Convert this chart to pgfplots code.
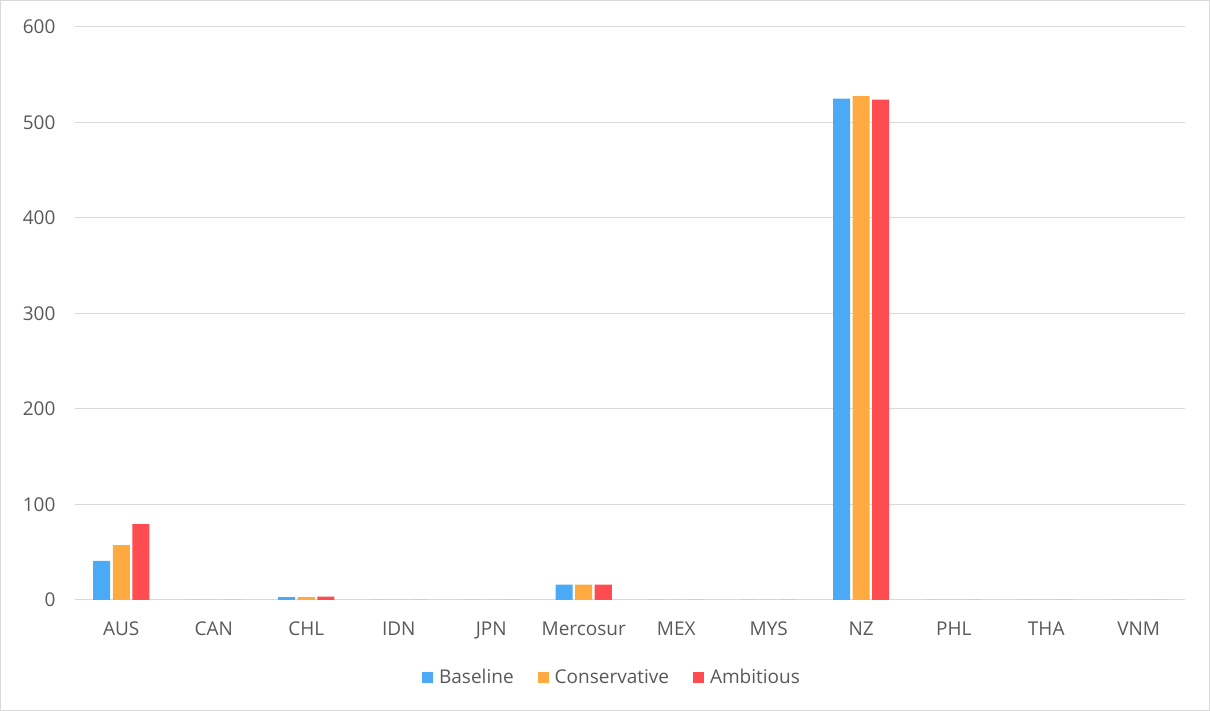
\documentclass[border=0pt]{standalone}
\usepackage{pgfplots}
\pgfplotsset{compat=1.18}
\usepackage{fontspec}
\setmainfont{Open Sans}
\definecolor{cblue}{RGB}{74,170,245}
\definecolor{corange}{RGB}{255,170,64}
\definecolor{cred}{RGB}{255,76,80}
\definecolor{ctext}{RGB}{89,89,89}
\definecolor{cgrid}{RGB}{217,217,217}
\begin{document}
\begin{tikzpicture}[x=1pt,y=1pt]
\draw[cgrid, line width=1pt] (0.5,0.5) rectangle (1209.5,710.5);
\begin{axis}[
  at={(75pt,111pt)}, anchor=south west,
  scale only axis, width=1110pt, height=573pt,
  ybar=2.5pt, bar width=17pt,
  xmin=-0.5, xmax=11.5, ymin=0, ymax=600,
  xtick=data,
  xticklabels={AUS,CAN,CHL,IDN,JPN,Mercosur,MEX,MYS,NZ,PHL,THA,VNM},
  ytick={0,100,...,600},
  major tick length=0pt,
  ymajorgrids, grid style={cgrid, line width=1pt},
  axis x line*=bottom, axis y line*=left,
  y axis line style={draw=none},
  x axis line style={cgrid, line width=1pt},
  tick label style={font=\fontsize{19}{22}\selectfont, text=ctext},
  /pgf/number format/assume math mode=true,
  xticklabel style={yshift=-18pt},
  yticklabel style={xshift=-16pt},
  legend style={at={(0.4838,-0.1352)}, anchor=center, draw=none, legend columns=3,
     font=\fontsize{19}{22}\selectfont, text=ctext,
     /tikz/every odd column/.append style={column sep=4pt},
     /tikz/every even column/.append style={column sep=22pt}},
  legend image code/.code={\fill[#1] (0pt,-5.5pt) rectangle (11pt,5.5pt);},
]
\addplot[fill=cblue, draw=none] coordinates {(0,41) (1,0) (2,3) (3,0) (4,0) (5,16) (6,0) (7,0) (8,525) (9,0) (10,0) (11,0)};
\addplot[fill=corange, draw=none] coordinates {(0,57.5) (1,0) (2,3) (3,0) (4,0) (5,16) (6,0) (7,0) (8,527.5) (9,0) (10,0) (11,0)};
\addplot[fill=cred, draw=none] coordinates {(0,79.5) (1,0) (2,3.5) (3,0) (4,0) (5,16) (6,0) (7,0) (8,524) (9,0) (10,0) (11,0)};
\legend{Baseline,Conservative,Ambitious}
\end{axis}
\end{tikzpicture}
\end{document}
